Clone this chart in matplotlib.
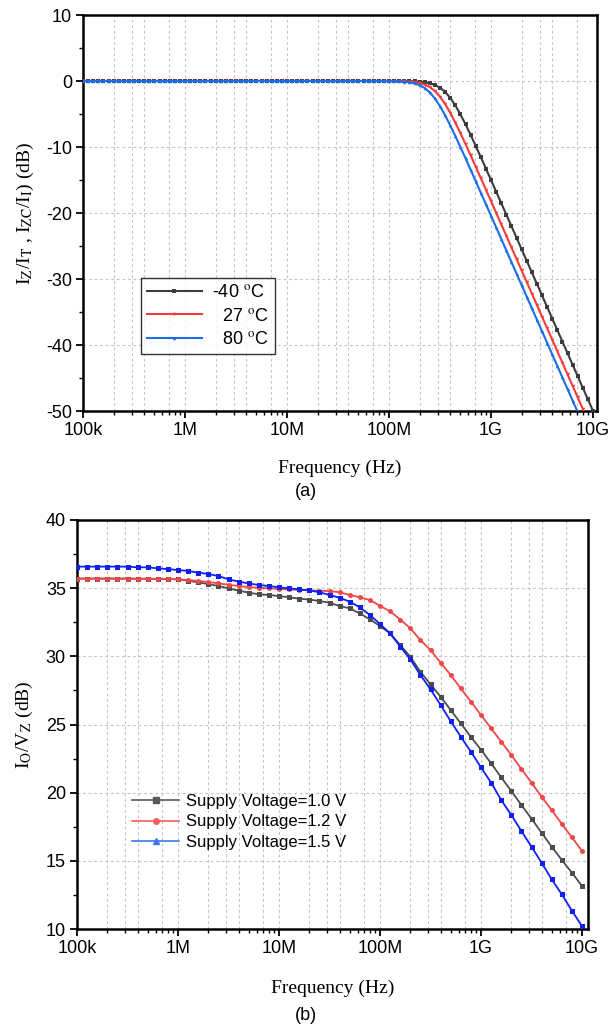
import numpy as np
import matplotlib
matplotlib.use("Agg")
import matplotlib.pyplot as plt
from matplotlib.lines import Line2D
from matplotlib.ticker import FixedLocator, NullFormatter

plt.rcParams['font.family'] = ['Liberation Sans', 'DejaVu Sans']
plt.rcParams['mathtext.fontset'] = 'stix'
plt.rcParams['axes.unicode_minus'] = False

# ---------------- data ----------------
tick_pos = [1e5, 1e6, 1e7, 1e8, 1e9, 1e10]
tick_labels = ['100k', '1M', '10M', '100M', '1G', '10G']

# (a) frequency sweep: 20 points / decade, 100 kHz .. 10 GHz
freq_a = np.logspace(5, 10, 101)
flat_a = [0.0, 0.0, 0.0, 0.0, 0.0, 0.0, 0.0, 0.0, 0.0, 0.0,
          0.0, 0.0, 0.0, 0.0, 0.0, 0.0, 0.0, 0.0, 0.0, 0.0,
          0.0, 0.0, 0.0, 0.0, 0.0, 0.0, 0.0, 0.0, 0.0, 0.0,
          0.0, 0.0, 0.0, 0.0, 0.0, 0.0, 0.0, 0.0, 0.0, 0.0,
          0.0, 0.0, 0.0, 0.0, 0.0, 0.0, 0.0, 0.0, 0.0, 0.0,
          0.0, 0.0, 0.0, 0.0, 0.0, 0.0, 0.0, 0.0, 0.0, 0.0]
roll_m40 = [-0.00, -0.01, -0.01, -0.02, -0.03, -0.06, -0.11, -0.19, -0.34, -0.60,
            -1.02, -1.65, -2.55, -3.69, -5.05, -6.56, -8.17, -9.84, -11.54, -13.27,
            -15.01, -16.75, -18.50, -20.24, -21.99, -23.74, -25.49, -27.24, -28.99, -30.74,
            -32.49, -34.24, -35.99, -37.74, -39.49, -41.24, -42.99, -44.74, -46.49, -48.24,
            -49.99]
roll_27 = [-0.01, -0.02, -0.03, -0.05, -0.10, -0.17, -0.31, -0.55, -0.93, -1.53,
           -2.38, -3.48, -4.81, -6.30, -7.90, -9.56, -11.26, -12.98, -14.72, -16.46,
           -18.21, -19.95, -21.70, -23.45, -25.20, -26.95, -28.70, -30.45, -32.20, -33.95,
           -35.70, -37.45, -39.20, -40.95, -42.70, -44.45, -46.20, -47.95, -49.70, -51.45,
           -53.20]
roll_80 = [-0.02, -0.03, -0.06, -0.11, -0.20, -0.36, -0.63, -1.07, -1.73, -2.65,
           -3.82, -5.19, -6.72, -8.33, -10.01, -11.72, -13.45, -15.19, -16.93, -18.67,
           -20.42, -22.17, -23.92, -25.67, -27.42, -29.17, -30.92, -32.67, -34.42, -36.17,
           -37.92, -39.67, -41.42, -43.17, -44.92, -46.67, -48.42, -50.17, -51.92, -53.67,
           -55.42]
gain_m40 = flat_a + roll_m40
gain_27 = flat_a + roll_27
gain_80 = flat_a + roll_80
labels_a = ['-40 $^{\\mathrm{o}}$C', '  27 $^{\\mathrm{o}}$C', '  80 $^{\\mathrm{o}}$C']

# (b) frequency sweep: 10 points / decade
freq_b = np.logspace(5, 10, 51)
v10 = [35.70, 35.70, 35.70, 35.70, 35.70, 35.70, 35.69, 35.69, 35.68, 35.67,
       35.65, 35.55, 35.43, 35.30, 35.16, 34.99, 34.82, 34.67, 34.55, 34.50,
       34.42, 34.33, 34.23, 34.16, 34.06, 33.93, 33.69, 33.52, 33.15, 32.71,
       32.22, 31.68, 30.83, 29.97, 28.87, 27.94, 27.04, 26.06, 25.08, 24.08,
       23.15, 22.15, 21.12, 20.12, 19.09, 18.09, 17.06, 16.03, 15.06, 14.13,
       13.15]
v12 = [35.70, 35.70, 35.70, 35.70, 35.70, 35.70, 35.70, 35.69, 35.68, 35.67,
       35.65, 35.60, 35.53, 35.45, 35.35, 35.25, 35.16, 35.08, 35.03, 34.99,
       34.94, 34.91, 34.87, 34.84, 34.81, 34.79, 34.70, 34.50, 34.33, 34.13,
       33.70, 33.30, 32.70, 32.05, 31.20, 30.46, 29.53, 28.63, 27.65, 26.67,
       25.69, 24.72, 23.74, 22.76, 21.73, 20.73, 19.70, 18.72, 17.70, 16.72,
       15.72]
v15 = [36.58, 36.58, 36.58, 36.58, 36.58, 36.58, 36.53, 36.53, 36.45, 36.40,
       36.33, 36.26, 36.14, 36.04, 35.89, 35.65, 35.48, 35.35, 35.23, 35.16,
       35.06, 34.99, 34.91, 34.84, 34.70, 34.50, 34.30, 34.01, 33.59, 33.03,
       32.37, 31.68, 30.71, 29.78, 28.63, 27.58, 26.43, 25.24, 24.10, 23.00,
       21.85, 20.73, 19.46, 18.36, 17.18, 16.03, 14.86, 13.64, 12.54, 11.34,
       10.21]
labels_b = ['Supply Voltage=1.0 V', 'Supply Voltage=1.2 V', 'Supply Voltage=1.5 V']

# ---------------- figure ----------------
W, H = 612, 1030
fig = plt.figure(figsize=(W / 100, H / 100), dpi=100)

def px_axes(l, t, r, b):
    return fig.add_axes([l / W, 1 - b / H, (r - l) / W, (b - t) / H])

ax1 = px_axes(83, 15, 597, 411)
ax2 = px_axes(77, 520, 588, 929)

grid_mult = [1, 2, 3, 4, 7]
grid_kw = dict(color='#c4c4c4', linestyle=(0, (2.5, 2.5)), linewidth=0.8, zorder=0)

def style_axes(ax, xmax, yticks, yminor):
    ax.set_xscale('log')
    ax.set_xlim(1e5, xmax)
    ax.xaxis.set_major_locator(FixedLocator(tick_pos))
    ax.set_xticklabels(tick_labels)
    minors = [m * d for d in [1e5, 1e6, 1e7, 1e8, 1e9] for m in range(2, 10)]
    ax.xaxis.set_minor_locator(FixedLocator(minors))
    ax.xaxis.set_minor_formatter(NullFormatter())
    ax.set_yticks(yticks)
    ax.yaxis.set_minor_locator(FixedLocator(yminor))
    ax.tick_params(which='major', direction='out', length=5, width=1.3,
                   labelsize=13, pad=3, top=False, right=False)
    ax.tick_params(which='minor', direction='out', length=3, width=1.0,
                   top=False, right=False)
    for s in ax.spines.values():
        s.set_linewidth(1.8)
        s.set_color('black')
    gx = [m * d for d in [1e5, 1e6, 1e7, 1e8, 1e9] for m in grid_mult][1:]
    for g in gx:
        ax.axvline(g, **grid_kw)
    for y in yticks[1:-1]:
        ax.axhline(y, **grid_kw)

# ---- (a)
cols_a = ['#3c3c3c', '#f23c3c', '#1a6ee8']
mk_a = ['s', 'v', '^']
for g, c, m, lab in zip([gain_m40, gain_27, gain_80], cols_a, mk_a, labels_a):
    ax1.plot(freq_a, g, color=c, lw=1.5, marker=m, markersize=2.5,
             markeredgewidth=0, label=lab, zorder=3)
ax1.set_ylim(-50, 10)
style_axes(ax1, 1.094e10, [-50, -40, -30, -20, -10, 0, 10],
           [-45, -35, -25, -15, -5, 5])
ax1.set_ylabel('I$_{\\mathrm{Z}}$/I$_{\\mathrm{T}}$ , I$_{\\mathrm{ZC}}$/I$_{\\mathrm{I}}$) (dB)',
               family='Liberation Serif', fontsize=14, labelpad=7)
ax1.set_xlabel('Frequency (Hz)', family='Liberation Serif', fontsize=14, labelpad=15)
leg1 = ax1.legend(loc='upper left', bbox_to_anchor=(0.113, 0.336), borderaxespad=0,
                  fontsize=13, frameon=True, fancybox=False, edgecolor='black',
                  handlelength=3.0, handletextpad=0.6, labelspacing=0.35,
                  borderpad=0.35)
leg1.get_frame().set_linewidth(1.0)
fig.text(306 / W, 1 - 492 / H, '(a)', ha='center', va='center', fontsize=13)

# ---- (b)
cols_b = ['#4d4d4d', '#f04848', '#1020f0']
mk_b = ['s', 'o', 's']
for v, c, m, lab in zip([v10, v12, v15], cols_b, mk_b, labels_b):
    ax2.plot(freq_b, v, color=c, lw=1.3, marker=m, markersize=3.6,
             markeredgewidth=0, zorder=3)
ax2.set_ylim(10, 40)
style_axes(ax2, 1.146e10, [10, 15, 20, 25, 30, 35, 40],
           [12.5, 17.5, 22.5, 27.5, 32.5, 37.5])
ax2.set_ylabel('I$_{\\mathrm{O}}$/V$_{\\mathrm{Z}}$ (dB)', family='Liberation Serif',
               fontsize=14, labelpad=8)
ax2.set_xlabel('Frequency (Hz)', family='Liberation Serif', fontsize=14, labelpad=16)
handles_b = [Line2D([], [], color='#5a5a5a', lw=1.2, marker='s', markersize=4),
             Line2D([], [], color='#f06060', lw=1.2, marker='o', markersize=4),
             Line2D([], [], color='#3c78e6', lw=1.2, marker='^', markersize=4)]
ax2.legend(handles_b, labels_b, loc='center left', bbox_to_anchor=(0.095, 0.262),
           frameon=False, fontsize=12, handlelength=2.8, handletextpad=0.4,
           labelspacing=0.35, borderaxespad=0)
fig.text(306 / W, 1 - 1015 / H, '(b)', ha='center', va='center', fontsize=13)

fig.savefig('out.png', dpi=100)
